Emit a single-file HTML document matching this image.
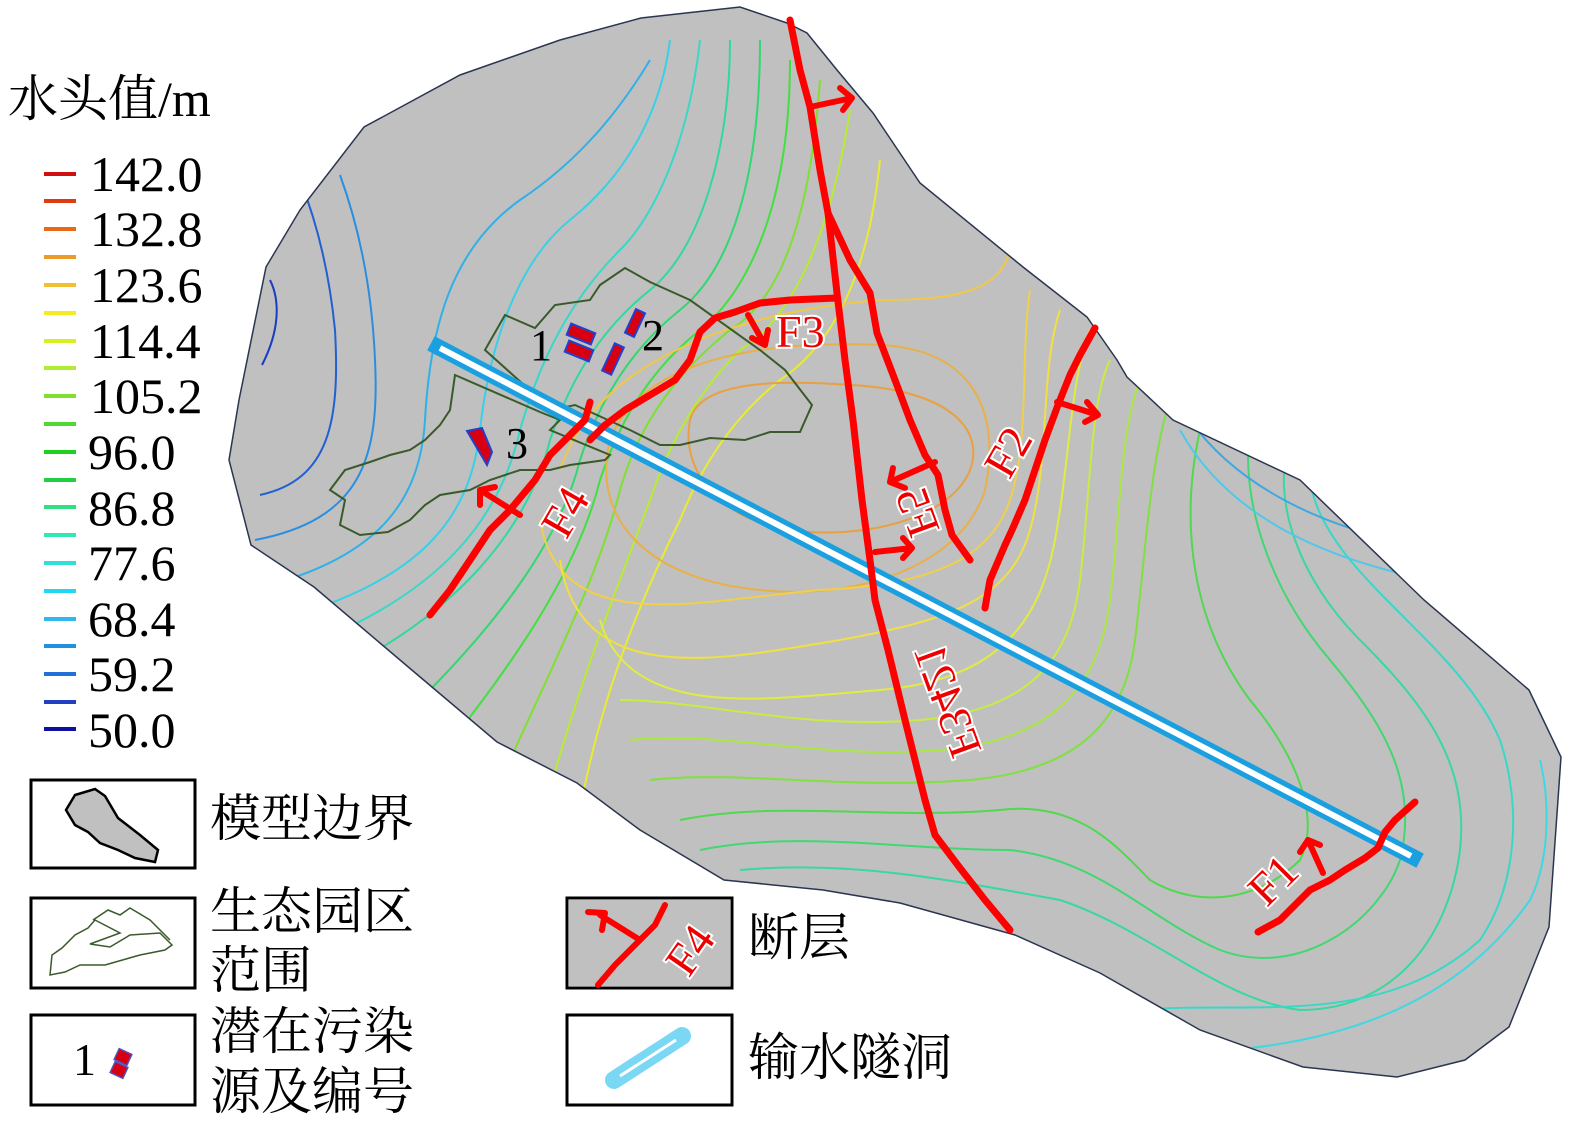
<!DOCTYPE html>
<html><head><meta charset="utf-8"><style>
html,body{margin:0;padding:0;background:#fff;}
svg{display:block;}
.t{font-family:"Liberation Serif",serif;fill:#000;}
.c{font-family:"Liberation Serif","Noto Serif CJK SC",serif;fill:#000;}
.fl{font-family:"Liberation Serif",serif;fill:#e00;stroke:#fff;stroke-width:4;paint-order:stroke;font-size:46px;}
.ct{fill:none;stroke-width:2;}
.flt{fill:none;stroke:#f00;stroke-width:7;stroke-linecap:round;stroke-linejoin:round;}
.ar{fill:none;stroke:#f00;stroke-width:6;stroke-linecap:round;stroke-linejoin:round;}
</style></head><body>
<svg width="1575" height="1122" viewBox="0 0 1575 1122" xmlns="http://www.w3.org/2000/svg">
<defs>
<clipPath id="bd"><path id="bp" d="M229,460 L239,400 L266,267 L300,210 L364,127 L460,75 L560,40 L641,18 L740,7 L787,23 L807,33 L837,70 L873,113 L920,183 L1023,267 L1087,317 L1117,360 L1127,377 L1173,420 L1300,480 L1424,600 L1529,690 L1561,757 L1549,927 L1509,1027 L1465,1060 L1397,1077 L1303,1067 L1200,1030 L1100,973 L1015,935 L900,903 L823,890 L724,880 L640,830 L577,783 L497,742 L400,660 L314,587 L251,545 Z"/></clipPath>
</defs>
<use href="#bp" fill="#c0c0c0"/>
<g clip-path="url(#bd)">
<path class="ct" stroke="#1a3cc0" d="M262,365 C280,330 280,300 270,280"/>
<path class="ct" stroke="#2060d0" d="M260,495 C330,480 340,420 335,330 C330,280 320,230 300,180"/>
<path class="ct" stroke="#2a8ee0" d="M255,540 C360,520 380,460 375,360 C372,290 360,230 340,175"/>
<path class="ct" stroke="#30b0e8" d="M250,590 C380,560 420,500 425,420 C430,330 450,250 520,200 C580,160 620,110 650,60"/>
<path class="ct" stroke="#38d0e8" d="M280,620 C420,580 470,520 480,430 C490,340 520,260 570,220 C620,180 660,120 670,40"/>
<path class="ct" stroke="#38d8c8" d="M320,640 C440,590 500,520 520,430 C540,360 570,300 620,250 C660,210 690,130 700,40"/>
<path class="ct" stroke="#30d8a0" d="M360,660 C470,600 530,520 550,440 C570,380 600,330 650,290 C700,250 730,150 730,40"/>
<path class="ct" stroke="#30d870" d="M420,700 C500,620 560,540 580,460 C600,400 630,350 680,310 C730,270 760,180 760,40"/>
<path class="ct" stroke="#40e040" d="M460,730 C530,640 580,560 600,480 C620,420 650,370 700,330 C750,290 790,200 790,60"/>
<path class="ct" stroke="#80e030" d="M510,760 C560,650 600,570 620,490 C640,420 680,370 730,330 C780,300 810,220 820,80"/>
<path class="ct" stroke="#b8ec30" d="M550,790 C580,680 620,580 650,500 C670,440 700,390 740,350 C790,320 830,240 850,110"/>
<path class="ct" stroke="#e8ec30" d="M580,810 C600,700 640,600 680,520 C700,470 730,420 780,380 C840,340 870,260 880,160"/>
<path class="ct" stroke="#e8a040" d="M690,420 C700,380 780,380 850,385 C950,390 985,430 970,470 C950,520 860,540 790,530 C720,520 680,470 690,420 Z"/>
<path class="ct" stroke="#e8b048" d="M610,440 C640,360 760,340 880,345 C980,350 1000,420 985,490 C960,570 850,600 760,590 C650,580 590,520 610,440 Z"/>
<path class="ct" stroke="#f0c848" d="M560,470 C600,350 760,310 880,300 C960,300 1000,290 1010,250"/>
<path class="ct" stroke="#f0d048" d="M540,520 C560,640 700,600 820,590 C930,585 990,560 1010,500 C1030,440 1020,360 1030,290"/>
<path class="ct" stroke="#f0e040" d="M560,560 C580,690 720,660 840,640 C950,620 1010,600 1030,530 C1050,460 1040,370 1060,310"/>
<path class="ct" stroke="#e0ec40" d="M600,620 C630,720 760,700 880,690 C1000,680 1040,620 1055,540 C1070,460 1070,380 1090,330"/>
<path class="ct" stroke="#c8ec40" d="M620,700 C700,700 800,730 920,720 C1030,710 1070,660 1080,580 C1090,500 1090,400 1110,360"/>
<path class="ct" stroke="#a8e840" d="M630,740 C720,730 820,760 940,750 C1060,740 1100,680 1110,600 C1120,520 1120,430 1140,380"/>
<path class="ct" stroke="#80e040" d="M650,780 C740,770 840,790 970,780 C1080,770 1125,720 1135,640 C1145,560 1150,460 1170,400"/>
<path class="ct" stroke="#50d850" d="M680,820 C780,800 880,820 1000,810 C1080,800 1120,850 1150,880 C1200,910 1260,900 1300,860 C1320,820 1300,760 1250,700 C1190,620 1180,520 1200,430"/>
<path class="ct" stroke="#40d870" d="M700,850 C800,830 900,850 1010,850 C1100,860 1150,920 1220,950 C1300,980 1380,920 1400,860 C1420,780 1380,720 1330,660 C1270,590 1240,500 1250,430"/>
<path class="ct" stroke="#38d8a0" d="M740,870 C850,860 950,880 1060,900 C1150,930 1220,1000 1300,1010 C1400,1010 1450,930 1460,850 C1470,760 1420,700 1360,640 C1300,580 1270,500 1290,440"/>
<path class="ct" stroke="#38d8c8" d="M1140,1010 C1250,1000 1380,1030 1480,940 C1520,880 1520,800 1500,740 C1470,670 1400,620 1350,560 C1310,510 1300,470 1320,440"/>
<path class="ct" stroke="#40d8e0" d="M1230,1050 C1350,1040 1460,1000 1530,900 C1550,860 1550,800 1540,760"/>
<path class="ct" stroke="#50c8e8" d="M1180,430 C1230,520 1330,560 1430,580 C1500,590 1540,620 1560,640"/>
<path class="ct" stroke="#40a8e0" d="M1190,420 C1240,490 1330,530 1420,545 C1480,550 1520,560 1540,600"/>
</g>
<use href="#bp" fill="none" stroke="#2a3550" stroke-width="1.5"/>
<path fill="none" stroke="#3a5a2a" stroke-width="2" d="M485,350 L505,315 L535,328 L555,305 L590,300 L600,285 L625,268 L650,282 L690,300 L760,350 L785,370 L812,405 L800,432 L770,432 L745,440 L710,438 L680,445 L660,445 L630,430 L575,405 L552,410 Z"/>
<path fill="none" stroke="#3a5a2a" stroke-width="2" d="M455,375 L540,412 L560,420 L550,430 L610,455 L605,460 L570,465 L550,470 L520,470 L490,480 L470,490 L440,495 L425,505 L410,520 L388,532 L360,535 L340,525 L345,500 L330,490 L345,470 L370,462 L390,455 L410,450 L425,440 L440,425 L450,410 Z"/>
<line x1="438" y1="347" x2="1413" y2="857" stroke="#1aa0e0" stroke-width="16" stroke-linecap="square"/>
<line x1="440" y1="348" x2="1411" y2="856" stroke="#fff" stroke-width="6"/>
<g fill="#d80010" stroke="#2040d0" stroke-width="2">
<rect x="568" y="328" width="26" height="12" transform="rotate(22 581 334)"/>
<rect x="566" y="345" width="26" height="12" transform="rotate(22 579 351)"/>
<rect x="630" y="310" width="10" height="26" transform="rotate(25 635 323)"/>
<rect x="608" y="344" width="10" height="30" transform="rotate(25 613 359)"/>
<path d="M467,431 L482,428 L492,452 L487,465 Z"/>
</g>
<text class="t" x="530" y="360" font-size="44">1</text>
<text class="t" x="642" y="350" font-size="44">2</text>
<text class="t" x="506" y="458" font-size="44">3</text>
<path class="flt" d="M790,20 L800,70 L810,107 L820,170 L828,213 L837,293 L845,360 L853,420 L862,500 L870,560 L875,600 L888,650 L905,720 L925,800 L935,835 L960,868 L985,900 L1010,930"/>
<path class="flt" d="M828,213 L850,260 L870,293 L877,333 L895,380 L910,420 L925,455 L938,475 L945,510 L952,535 L970,560"/>
<path class="flt" d="M837,298 L790,300 L760,303 L735,312 L715,318 L700,332 L690,360 L675,380 L650,395 L625,410 L605,425 L590,440"/>
<path class="flt" d="M430,615 L450,590 L470,560 L490,530 L510,510 L535,480 L550,455 L570,435 L585,420 L590,402"/>
<path class="flt" d="M985,608 L990,580 L1005,545 L1012,530 L1025,500 L1035,470 L1045,440 L1058,405 L1070,375 L1080,355 L1095,328"/>
<path class="flt" d="M1258,932 L1280,920 L1295,905 L1310,890 L1330,880 L1345,870 L1365,858 L1378,848 L1385,832 L1395,820 L1415,802"/>
<path class="ar" d="M810,107 L852,98 M840,88 L852,98 L843,110"/>
<path class="ar" d="M748,315 L765,345 M752,338 L765,345 L768,330"/>
<path class="ar" d="M520,515 L480,490 M480,505 L480,490 L495,487"/>
<path class="ar" d="M935,462 L890,482 M893,468 L890,482 L905,488"/>
<path class="ar" d="M875,552 L912,548 M903,538 L912,548 L903,558"/>
<path class="ar" d="M1057,402 L1098,415 M1087,402 L1098,415 L1085,422"/>
<path class="ar" d="M1323,873 L1308,840 M1300,852 L1308,840 L1320,845"/>
<text class="fl" x="776" y="347">F3</text>
<text class="fl" text-anchor="middle" dominant-baseline="central" transform="translate(1008,452) rotate(-60)">F2</text>
<text class="fl" text-anchor="middle" dominant-baseline="central" transform="translate(565,512) rotate(-60)">F4</text>
<text class="fl" text-anchor="middle" dominant-baseline="central" transform="translate(1273,880) rotate(-45)">F1</text>
<text class="fl" text-anchor="middle" dominant-baseline="central" transform="translate(918,512) rotate(-110) scale(1,-1)">F5</text>
<text class="fl" text-anchor="middle" dominant-baseline="central" transform="translate(948,700) rotate(-110) scale(1,-1)">F3421</text>
<text class="c" x="8" y="116" font-size="50">水头值/m</text>
<g stroke-width="4">
<line x1="44" x2="76" y1="174" y2="174" stroke="#d01010"/>
<line x1="44" x2="76" y1="201" y2="201" stroke="#e03a10"/>
<line x1="44" x2="76" y1="229" y2="229" stroke="#e86a18"/>
<line x1="44" x2="76" y1="257" y2="257" stroke="#ec9a2a"/>
<line x1="44" x2="76" y1="285" y2="285" stroke="#f0c030"/>
<line x1="44" x2="76" y1="313" y2="313" stroke="#f5ec20"/>
<line x1="44" x2="76" y1="341" y2="341" stroke="#d8f020"/>
<line x1="44" x2="76" y1="368" y2="368" stroke="#b0ec30"/>
<line x1="44" x2="76" y1="396" y2="396" stroke="#80e030"/>
<line x1="44" x2="76" y1="424" y2="424" stroke="#50d830"/>
<line x1="44" x2="76" y1="452" y2="452" stroke="#20d020"/>
<line x1="44" x2="76" y1="480" y2="480" stroke="#20d040"/>
<line x1="44" x2="76" y1="507" y2="507" stroke="#30e080"/>
<line x1="44" x2="76" y1="535" y2="535" stroke="#30e8b0"/>
<line x1="44" x2="76" y1="563" y2="563" stroke="#30e0d8"/>
<line x1="44" x2="76" y1="591" y2="591" stroke="#20d8f0"/>
<line x1="44" x2="76" y1="619" y2="619" stroke="#30b8ec"/>
<line x1="44" x2="76" y1="646" y2="646" stroke="#2090e0"/>
<line x1="44" x2="76" y1="674" y2="674" stroke="#2070d8"/>
<line x1="44" x2="76" y1="702" y2="702" stroke="#2040c0"/>
<line x1="44" x2="76" y1="729" y2="729" stroke="#1010a0"/>
</g>
<g class="t" font-size="50">
<text x="90" y="191">142.0</text>
<text x="90" y="246">132.8</text>
<text x="90" y="302">123.6</text>
<text x="90" y="358">114.4</text>
<text x="90" y="413">105.2</text>
<text x="88" y="469">96.0</text>
<text x="88" y="525">86.8</text>
<text x="88" y="580">77.6</text>
<text x="88" y="636">68.4</text>
<text x="88" y="691">59.2</text>
<text x="88" y="747">50.0</text>
</g>
<g fill="none" stroke="#000" stroke-width="3">
<rect x="31" y="780" width="164" height="88"/>
<rect x="31" y="898" width="164" height="90"/>
<rect x="31" y="1015" width="164" height="90"/>
<rect x="567" y="898" width="165" height="90"/>
<rect x="567" y="1015" width="165" height="90"/>
</g>
<path d="M75,795 L95,789 L105,796 L118,818 L140,835 L158,850 L155,862 L135,858 L118,850 L100,843 L88,832 L75,825 L66,810 Z" fill="#c0c0c0" stroke="#000" stroke-width="2.5"/>
<path d="M50,975 L52,955 L62,948 L75,935 L88,928 L95,920 L120,933 L90,944 L110,947 L130,935 L160,933 L172,945 L165,950 L140,955 L105,965 L80,965 L65,972 Z" fill="none" stroke="#3a5a2a" stroke-width="1.5"/>
<path d="M93,920 L108,910 L120,915 L130,908 L150,920 L170,940" fill="none" stroke="#3a5a2a" stroke-width="1.5"/>
<text class="t" x="73" y="1075" font-size="46">1</text>
<g fill="#d80010" stroke="#5050c0" stroke-width="1.5"><rect x="116" y="1051" width="14" height="12" transform="rotate(25 123 1057)"/><rect x="112" y="1064" width="14" height="12" transform="rotate(25 119 1070)"/></g>
<rect x="569" y="900" width="161" height="86" fill="#c0c0c0"/>
<path d="M598,985 L615,965 L630,950 L640,940 L655,925 L665,905" fill="none" stroke="#f00" stroke-width="6" stroke-linecap="round"/>
<path d="M640,940 L600,915 M588,912 L605,913 L602,930" fill="none" stroke="#f00" stroke-width="6" stroke-linecap="round" stroke-linejoin="round"/>
<text class="fl" font-size="36" stroke-width="3" text-anchor="middle" dominant-baseline="central" transform="translate(690,950) rotate(-55)">F4</text>
<line x1="614" y1="1080" x2="682" y2="1036" stroke="#7ad8f4" stroke-width="18" stroke-linecap="round"/>
<line x1="620" y1="1076" x2="676" y2="1040" stroke="#fff" stroke-width="3"/>
<g class="c" font-size="51">
<text x="210" y="836">模型边界</text>
<text x="210" y="929">生态园区</text>
<text x="210" y="988">范围</text>
<text x="210" y="1049">潜在污染</text>
<text x="210" y="1109">源及编号</text>
<text x="748" y="955">断层</text>
<text x="748" y="1075">输水隧洞</text>
</g>
</svg>
</body></html>
